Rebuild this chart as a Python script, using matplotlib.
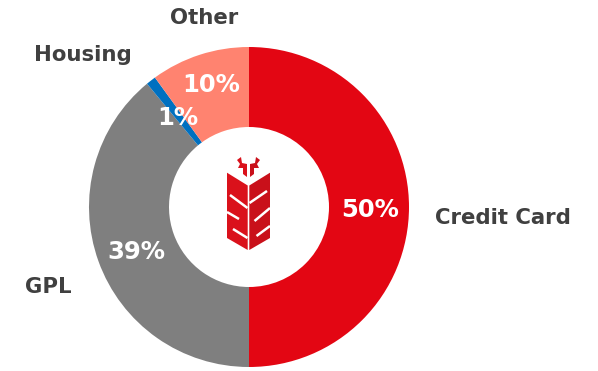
import matplotlib
matplotlib.use("Agg")
import matplotlib.pyplot as plt
from matplotlib.patches import Polygon

categories = ["Credit Card", "GPL", "Housing", "Other"]
values = [50, 39, 1, 10]
pct_labels = ["50%", "39%", "1%", "10%"]
colors = ["#E30613", "#7F7F7F", "#0070C0", "#FF8370"]

W, H = 598, 371
fig = plt.figure(figsize=(W / 100, H / 100), dpi=100)
ax = fig.add_axes([0, 0, 1, 1])
ax.set_xlim(0, W)
ax.set_ylim(0, H)
ax.axis("off")

cx, cy = 249, H - 207
R = 160
ax.pie(values, colors=colors, startangle=90, counterclock=False,
       center=(cx, cy), radius=R,
       wedgeprops=dict(width=R * 0.5, edgecolor="none"))
ax.set_xlim(0, W)
ax.set_ylim(0, H)
ax.set_aspect("equal")

lab_font = dict(fontsize=15.3, fontweight="bold", color="#404040",
                family="DejaVu Sans", ha="center", va="center")
cat_pos = {"Credit Card": (503, 218), "GPL": (48, 287),
           "Housing": (83, 55), "Other": (204, 18)}
for c in categories:
    x, y = cat_pos[c]
    ax.text(x, H - y, c, **lab_font)

pct_font = dict(fontsize=17.5, fontweight="bold", color="white",
                family="DejaVu Sans", ha="center", va="center")
pct_pos = [(370, 210), (136, 252), (178, 118), (211, 85)]
for t, (x, y) in zip(pct_labels, pct_pos):
    ax.text(x, H - y, t, **pct_font)

# logo (pixel coordinates, y down)
def P(pts):
    return [(x, H - y) for x, y in pts]

mid = 248.5
hw = 21.5
lx = mid - hw
left = [(lx, 172.7), (mid - 0.8, 185.5), (mid - 0.8, 250), (lx, 238)]
right = [(2 * mid - x, y) for x, y in left]
ax.add_patch(Polygon(P(left), closed=True, color="#DA111B", lw=0, zorder=3))
ax.add_patch(Polygon(P(right), closed=True, color="#C9101A", lw=0, zorder=3))
# white leaf cuts
cuts_left = [((lx + 3, 195), (mid - 1, 208)), ((lx, 212), (lx + 12, 219)),
             ((lx + 6, 229), (mid - 1, 238))]
cuts_right = [((2 * mid - lx - 3, 191), (mid + 1, 203)),
              ((2 * mid - lx, 208), (mid + 6, 221)),
              ((2 * mid - lx, 226), (mid + 8, 236))]
for (a, b) in cuts_left + cuts_right:
    ax.plot([a[0], b[0]], [H - a[1], H - b[1]], color="white", lw=1.8,
            solid_capstyle="butt", zorder=4)
# top hooks
hookL = [(237, 160), (241, 157), (242, 163), (247, 164), (247, 177),
         (243, 174), (243, 168), (238, 168), (240, 164)]
hookR = [(2 * mid - x, y) for x, y in hookL]
ax.add_patch(Polygon(P(hookL), closed=True, color="#DA111B", lw=0, zorder=3))
ax.add_patch(Polygon(P(hookR), closed=True, color="#C9101A", lw=0, zorder=3))

fig.savefig("out.png", dpi=100)
